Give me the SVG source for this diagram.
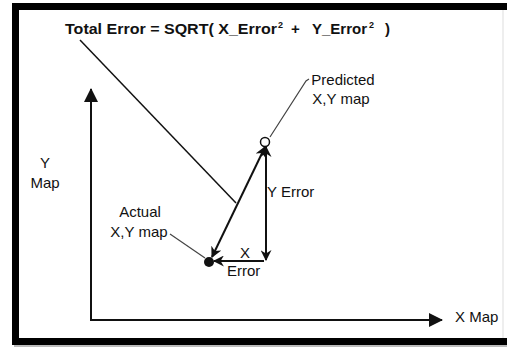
<svg xmlns="http://www.w3.org/2000/svg" width="507" height="349" viewBox="0 0 507 349">
  <style>
    .lbl { font-family: "Liberation Sans", Arial, sans-serif; font-size: 15px; fill: #111; }
    .ttl { font-family: "Liberation Sans", Arial, sans-serif; font-size: 15px; font-weight: bold; fill: #111; }
    .sup { font-size: 9px; }
    .leader { stroke: #444; stroke-width: 1.2; fill: none; }
    .axis { stroke: #111; stroke-width: 2; fill: none; }
    .edge { stroke: #111; stroke-width: 2; fill: none; }
  </style>
  <defs>
    <marker id="arr" viewBox="0 0 10 10" refX="9" refY="5" markerUnits="userSpaceOnUse" markerWidth="11" markerHeight="11" orient="auto-start-reverse">
      <path d="M0,0 L10,5 L0,10 L3,5 z" fill="#111"/>
    </marker>
    <marker id="axarr" viewBox="0 0 14 14" refX="13" refY="7" markerUnits="userSpaceOnUse" markerWidth="14" markerHeight="14" orient="auto">
      <path d="M0,0 L14,7 L0,14 z" fill="#111"/>
    </marker>
  </defs>

  <rect x="0" y="0" width="507" height="349" fill="#fff"/>

  <g id="frame">
    <rect x="12" y="3" width="495" height="7" fill="#000"/>
    <rect x="12" y="3" width="7" height="342" fill="#000"/>
    <rect x="12" y="338" width="495" height="7" fill="#000"/>
    <rect x="14" y="345" width="493" height="2" fill="#bbb"/>
    <line x1="503" y1="10" x2="503" y2="338" stroke="#ddd" stroke-width="1"/>
  </g>

  <g id="connectors">
    <line class="leader" x1="80" y1="40" x2="236" y2="203" style="stroke:#111;stroke-width:1.5"/>
    <path class="leader" d="M309,79 L306,81 L270,137"/>
    <line class="leader" x1="170" y1="234" x2="205" y2="258"/>
    <line class="axis" x1="91" y1="320" x2="91" y2="89" marker-end="url(#axarr)"/>
    <line class="axis" x1="90" y1="320" x2="442" y2="320" marker-end="url(#axarr)"/>
    <line class="edge" x1="265" y1="147" x2="212" y2="257" marker-start="url(#arr)" marker-end="url(#arr)"/>
    <line class="edge" x1="266" y1="147" x2="266" y2="260" marker-start="url(#arr)" marker-end="url(#arr)"/>
    <line class="edge" x1="264" y1="261" x2="214" y2="261" marker-end="url(#arr)"/>
  </g>

  <g id="title">
    <text class="ttl" y="34"><tspan x="65" textLength="212" lengthAdjust="spacingAndGlyphs">Total Error = SQRT( X_Error</tspan><tspan class="sup" x="278" y="28">2</tspan><tspan x="291" y="34">+</tspan><tspan x="312">Y_Error</tspan><tspan class="sup" x="369" y="28">2</tspan><tspan x="385" y="34">)</tspan></text>
  </g>

  <g id="predicted">
    <circle cx="265" cy="142" r="4.5" fill="#fff" stroke="#111" stroke-width="1.5"/>
    <text class="lbl" x="343" y="85" text-anchor="middle">Predicted</text>
    <text class="lbl" x="341" y="104" text-anchor="middle">X,Y map</text>
  </g>

  <g id="actual">
    <circle cx="209" cy="262" r="5" fill="#111"/>
    <text class="lbl" x="140" y="217" text-anchor="middle">Actual</text>
    <text class="lbl" x="139" y="237" text-anchor="middle">X,Y map</text>
  </g>

  <g id="y-axis-label">
    <text class="lbl" x="45" y="168" text-anchor="middle">Y</text>
    <text class="lbl" x="45" y="188" text-anchor="middle">Map</text>
  </g>

  <g id="x-axis-label">
    <text class="lbl" x="455" y="322">X Map</text>
  </g>

  <g id="y-error-label">
    <text class="lbl" x="267" y="197">Y Error</text>
  </g>

  <g id="x-error-label">
    <text class="lbl" x="245" y="258" text-anchor="middle">X</text>
    <text class="lbl" x="227" y="276">Error</text>
  </g>
</svg>
